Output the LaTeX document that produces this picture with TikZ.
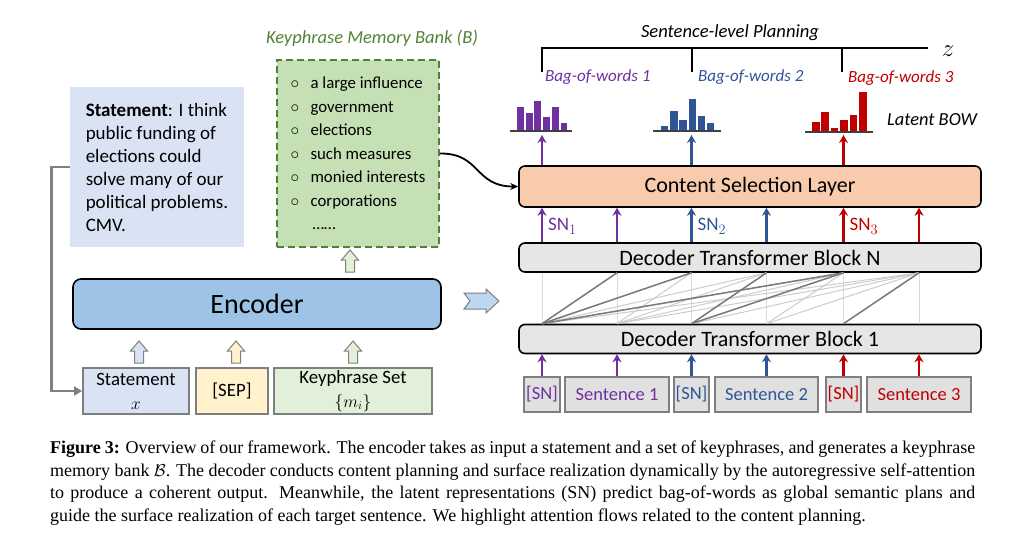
\documentclass[tikz,border=0pt]{standalone}
\usepackage{fontspec}
\setmainfont{Carlito}
\newfontfamily\capfont{Liberation Serif}
\usetikzlibrary{arrows.meta,positioning,calc}
\definecolor{stmtblue}{HTML}{DAE3F3}
\definecolor{encblue}{HTML}{9DC3E6}
\definecolor{chevblue}{HTML}{BDD7EE}
\definecolor{kpgreen}{HTML}{C5E0B4}
\definecolor{kpdark}{HTML}{548235}
\definecolor{kplight}{HTML}{E2F0D9}
\definecolor{sepyellow}{HTML}{FFF2CC}
\definecolor{cslorange}{HTML}{F8CBAD}
\definecolor{blockgray}{HTML}{E7E6E6}
\definecolor{tokgray}{HTML}{E0E0E0}
\definecolor{edgegray}{HTML}{7F7F7F}
\definecolor{attnpale}{HTML}{DADADA}
\definecolor{attnmid}{HTML}{CCCCCC}
\definecolor{attngray}{HTML}{7A7A7A}
\definecolor{planpurple}{HTML}{7030A0}
\definecolor{planblue}{HTML}{2F5597}
\definecolor{planred}{HTML}{C00000}
\tikzset{
  layer/.style={draw=black,line width=1.6pt,rounded corners=6pt,minimum width=462pt,inner sep=0pt,
    font=\fontsize{22}{24}\selectfont},
  inbox/.style={draw=edgegray,line width=1.8pt,inner sep=0pt,minimum height=46pt,align=center,
    font=\fontsize{18.8}{24}\selectfont},
  token/.style={draw=edgegray,fill=tokgray,line width=1.8pt,inner sep=0pt,minimum height=35pt,
    font=\fontsize{18.5}{20}\selectfont},
  upflow/.style={-{Stealth[length=8pt,width=9pt]},line width=2.2pt},
  hollow/.style={draw=edgegray,line width=1pt},
  elbow/.style={draw=edgegray,line width=2.8pt,-{Triangle[length=8pt,width=9pt]}},
  attnline/.style={line width=1pt,attnmid},
  attnhl/.style={line width=1.5pt,attngray},
  bowlabel/.style={font=\fontsize{17}{19}\selectfont\itshape,anchor=west,inner sep=0pt},
  snlabel/.style={font=\fontsize{19}{21}\selectfont,anchor=west,inner sep=0pt}
}
\newcommand{\kpitem}[1]{\makebox[20pt][l]{$\circ$}#1}
\newcommand{\hollowup}[3]{%
  \filldraw[hollow,fill=#3] (#1-4.5,#2) -- (#1-4.5,#2-12) -- (#1-8.5,#2-12) -- (#1,#2-22)
    -- (#1+8.5,#2-12) -- (#1+4.5,#2-12) -- (#1+4.5,#2) -- cycle;}

\begin{document}
\begin{tikzpicture}[x=1pt,y=-1pt]
\useasboundingbox (0,0) rectangle (1021,550);

% encoder side
\node[fill=stmtblue,minimum width=174pt,minimum height=160pt,align=left,
  font=\fontsize{19}{23}\selectfont] (stmt) at (157,167)
  {\textbf{Statement}: I think\\public funding of\\elections could\\solve many of our\\political problems.\\CMV.};
\node[fill=kpgreen,draw=kpdark,dash pattern=on 7pt off 4pt,line width=1.6pt,minimum width=162pt,
  minimum height=187pt,align=left,font=\fontsize{16.8}{23.5}\selectfont] (kpbank) at (358,153.5)
  {\kpitem{a large influence}\\\kpitem{government}\\\kpitem{elections}\\\kpitem{such measures}\\
   \kpitem{monied interests}\\\kpitem{corporations}\\\hspace*{22pt}……};
\node[font=\fontsize{18.5}{20}\selectfont\itshape,text=kpdark] (kptitle) at (372,38) {Keyphrase Memory Bank (B)};
\node[layer,fill=encblue,minimum width=368pt,minimum height=50pt,rounded corners=8pt,
  font=\fontsize{28}{32}\selectfont] (encoder) at (257,304) {Encoder};
\node[inbox,fill=stmtblue,minimum width=106pt] (instmt) at (136,391) {Statement\\$x$};
\node[inbox,fill=sepyellow,minimum width=72pt] (insep) at (232,391) {[SEP]};
\node[inbox,fill=kplight,minimum width=158pt] (inkp) at (353,391) {Keyphrase Set\\$\{m_i\}$};
\hollowup{139}{363}{stmtblue}
\hollowup{236}{363}{sepyellow}
\hollowup{353}{363}{kplight}
\hollowup{350}{272}{kplight}
\draw[elbow] (stmt.west) -- ++(-18,0) |- (instmt.west);
\filldraw[hollow,fill=chevblue] (464,293) -- (486,293) -- (486,289) -- (499,301) -- (486,313)
  -- (486,309) -- (464,309) -- (470,301) -- cycle;

% decoder side
\node[layer,fill=cslorange,minimum height=41pt] (csl) at (750,186.5) {Content Selection Layer};
\node[layer,fill=blockgray,minimum height=29pt] (blockN) at (750,257.5) {Decoder Transformer Block N};
\node[layer,fill=blockgray,minimum height=29pt] (block1) at (750,339) {Decoder Transformer Block 1};
\draw[-{Stealth[length=8pt,width=7pt]},line width=1.8pt] (kpbank.east) .. controls (481,153) and (474,186.5) .. (csl.west);

\foreach \cx/\w/\txt/\col [count=\i] in {542/36/[SN]/planpurple,617/104/Sentence 1/planpurple,
    691.5/35/[SN]/planblue,766.5/103/Sentence 2/planblue,843.5/35/[SN]/planred,919/104/Sentence 3/planred}{
  \node[token,minimum width=\w pt,text=\col] (tok\i) at (\cx,394.5) {\txt};
  \draw[upflow,\col] (tok\i.north) -- (tok\i.north |- block1.south);
  \draw[upflow,\col] (tok\i.north |- blockN.north) -- (tok\i.north |- csl.south);
  \draw[line width=1pt,attnpale] (tok\i.north |- block1.north) -- (tok\i.north |- blockN.south);
}
% attention flows
\foreach \i in {1,...,5}{
  \pgfmathtruncatemacro{\nexti}{\i+1}
  \foreach \j in {\nexti,...,6}
    \draw[attnline] (tok\i.north |- block1.north) -- (tok\j.north |- blockN.south);
}
\foreach \i/\j in {1/2,1/3,1/5,3/4,3/5,5/6}
  \draw[attnhl] (tok\i.north |- block1.north) -- (tok\j.north |- blockN.south);

% latent bag-of-words
\foreach \g/\col/\sub [count=\k] in {1/planpurple/1,3/planblue/2,5/planred/3}{
  \node[snlabel,text=\col] (sn\k) at ([xshift=6pt,yshift=16pt]tok\g.north |- blockN.north) {$\mathrm{SN}_{\sub}$};
  \coordinate (bowbase\k) at (tok\g.north |- 0,135);
  \draw[upflow,\col] (tok\g.north |- csl.north) -- (bowbase\k);
}
\foreach \h [count=\n] in {24,18,30,14,24,8}
  \fill[planpurple] (508.3+\n*8.7,131) rectangle ++(6.8,-\h);
\foreach \h [count=\n] in {5,20,11,32,15,8}
  \fill[planblue] (651.8+\n*9.2,131) rectangle ++(7.3,-\h);
\foreach \h [count=\n] in {10,20,4,12,17,40}
  \fill[planred] (802.6+\n*9.4,132) rectangle ++(7.6,-\h);
\draw[line width=1.5pt,darkgray] (510,131) -- (572,131);
\draw[line width=1.5pt,darkgray] (653,131) -- (721,131);
\draw[line width=1.5pt,darkgray] (805,132) -- (873,132);

\node[bowlabel,text=planpurple] (bow1) at (545,77) {Bag-of-words 1};
\node[bowlabel,text=planblue] (bow2) at (698,77) {Bag-of-words 2};
\node[bowlabel,text=planred] (bow3) at (848,78) {Bag-of-words 3};
\node[font=\fontsize{18.4}{20}\selectfont\itshape,anchor=west,inner sep=0pt] (latent) at (887,120) {Latent BOW};

% planning bracket
\draw[line width=1.8pt] (542,72) -- (542,48) -- (928,48);
\draw[line width=1.8pt] (692,48) -- (692,72);
\draw[line width=1.8pt] (842,48) -- (842,72);
\node[font=\fontsize{18.6}{20}\selectfont\itshape] (plantitle) at (730,33) {Sentence-level Planning};
\node[font=\fontsize{24}{26}\selectfont] (zlabel) at (948,51) {$z$};

% caption
\node[anchor=north west,text width=925pt,align=justify,inner sep=0pt,
  font=\capfont\fontsize{18}{22.5}\selectfont] (caption) at (50,441)
  {\textbf{Figure 3:} Overview of our framework. The encoder takes as input a statement and a set of keyphrases, and generates a keyphrase\linebreak
  memory bank $\mathcal{B}$. The decoder conducts content planning and surface realization dynamically by the autoregressive self-attention\linebreak
  to produce a coherent output. Meanwhile, the latent representations (SN) predict bag-of-words as global semantic plans and\linebreak
  guide the surface realization of each target sentence. We highlight attention flows related to the content planning.};
\end{tikzpicture}
\end{document}
